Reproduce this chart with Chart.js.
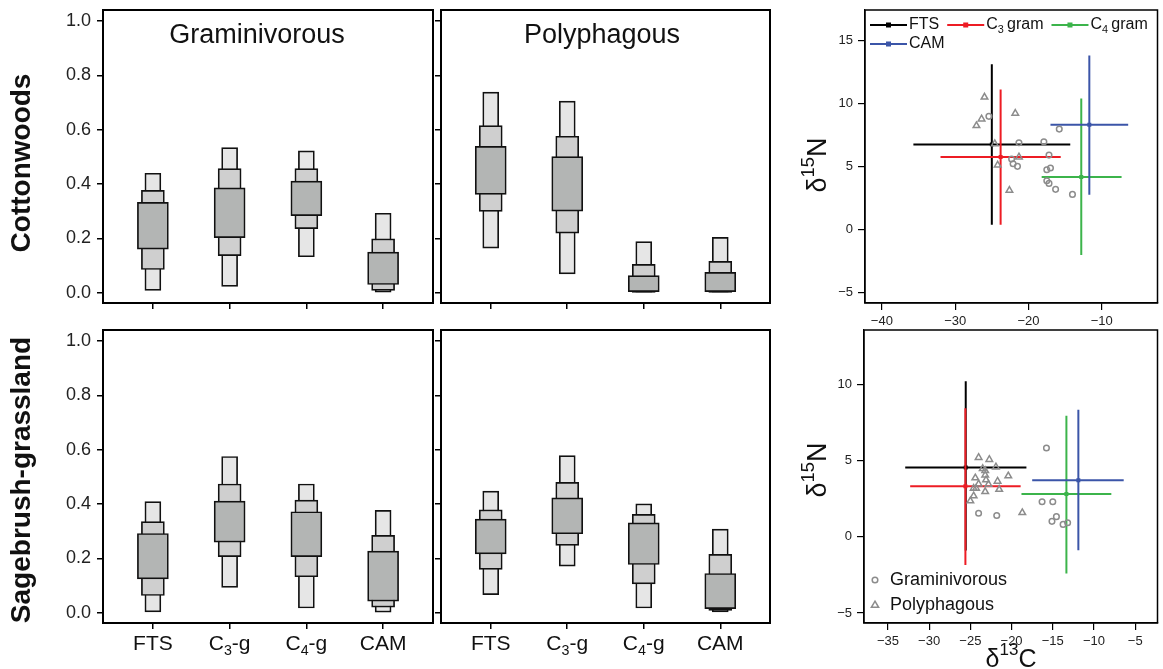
<!DOCTYPE html>
<html>
<head>
<meta charset="utf-8">
<script src="https://cdn.jsdelivr.net/npm/chart.js@4.4.0/dist/chart.umd.min.js"></script>
<style>
  body { margin: 0; background: #fff; width: 1163px; height: 669px; overflow: hidden; position: relative; }
  canvas { position: absolute; left: 0; top: 0; }
</style>
</head>
<body>
<canvas id="boxCottonGram" width="1163" height="669"></canvas>
<canvas id="boxCottonPoly" width="1163" height="669"></canvas>
<canvas id="boxSageGram" width="1163" height="669"></canvas>
<canvas id="boxSagePoly" width="1163" height="669"></canvas>
<canvas id="isoCotton" width="1163" height="669"></canvas>
<canvas id="isoSage" width="1163" height="669"></canvas>
<script>
const FAMILY = '"Liberation Sans", Arial, sans-serif'

/* diet proportions: [low, high] of the outer, middle and inner interval boxes */
const categories = ['FTS', 'C_3-g', 'C_4-g', 'CAM']
const yTicksBox = [0, 0.2, 0.4, 0.6, 0.8, 1.0]

const cottonGramOuter = [[0.009, 0.440], [0.024, 0.534], [0.133, 0.522], [0.000, 0.293]]
const cottonGramMid   = [[0.086, 0.377], [0.137, 0.457], [0.236, 0.457], [0.009, 0.199]]
const cottonGramInner = [[0.161, 0.333], [0.203, 0.386], [0.284, 0.411], [0.031, 0.150]]

const cottonPolyOuter = [[0.165, 0.738], [0.070, 0.705], [0.000, 0.189], [0.000, 0.204]]
const cottonPolyMid   = [[0.300, 0.615], [0.220, 0.576], [0.002, 0.105], [0.002, 0.116]]
const cottonPolyInner = [[0.362, 0.539], [0.301, 0.501], [0.005, 0.064], [0.005, 0.076]]

const sageGramOuter = [[0.004, 0.409], [0.094, 0.575], [0.018, 0.474], [0.000, 0.377]]
const sageGramMid   = [[0.064, 0.336], [0.207, 0.474], [0.133, 0.415], [0.021, 0.285]]
const sageGramInner = [[0.125, 0.292], [0.260, 0.411], [0.207, 0.372], [0.043, 0.227]]

const sagePolyOuter = [[0.067, 0.448], [0.172, 0.578], [0.018, 0.401], [0.004, 0.308]]
const sagePolyMid   = [[0.160, 0.379], [0.248, 0.480], [0.107, 0.362], [0.009, 0.215]]
const sagePolyInner = [[0.217, 0.345], [0.291, 0.423], [0.178, 0.331], [0.016, 0.145]]

/* stable isotopes */
const sourceNames = ['FTS', 'C_3\u2009gram', 'C_4\u2009gram', 'CAM']
const sourceColors = ['#000000', '#ed1c24', '#3cb44b', '#3b55a8']

const cottonSrcC   = [-25.0, -23.8, -12.8, -11.7]
const cottonSrcN   = [6.76, 5.76, 4.17, 8.32]
const cottonSrcCLo = [-35.7, -32.0, -18.2, -17.0]
const cottonSrcCHi = [-14.3, -15.6, -7.3, -6.4]
const cottonSrcNLo = [0.4, 0.4, -2.0, 2.77]
const cottonSrcNHi = [13.1, 11.1, 10.4, 13.8]

const sageSrcC   = [-25.56, -25.6, -13.35, -11.9]
const sageSrcN   = [4.54, 3.31, 2.81, 3.71]
const sageSrcCLo = [-32.9, -32.3, -18.8, -17.5]
const sageSrcCHi = [-18.2, -18.9, -7.9, -6.4]
const sageSrcNLo = [-0.9, -1.86, -2.41, -0.88]
const sageSrcNHi = [10.2, 8.44, 7.94, 8.33]

const cottonGramC = [-25.4, -21.3, -22.3, -22.1, -21.5, -17.9, -17.2, -15.8, -17.0, -17.5, -17.5, -17.2, -16.3, -14.0]
const cottonGramN = [8.98, 6.89, 5.6, 5.23, 5.02, 6.97, 5.91, 7.97, 4.89, 4.75, 3.88, 3.67, 3.2, 2.8]
const cottonPolyC = [-26.0, -26.4, -27.1, -21.8, -24.6, -24.2, -21.3, -22.6]
const cottonPolyN = [10.5, 8.77, 8.24, 9.22, 6.81, 5.12, 5.76, 3.12]

const sageGramC = [-15.77, -16.3, -15.0, -15.1, -14.56, -13.75, -13.2, -24.0, -21.8]
const sageGramN = [5.83, 2.30, 2.30, 1.01, 1.32, 0.81, 0.92, 1.54, 1.40]
const sagePolyC = [-24.0, -22.7, -21.9, -23.5, -23.2, -24.4, -23.2, -20.4, -23.1, -21.7, -24.0, -22.8, -24.6, -24.3, -21.5, -23.2, -24.6, -25.0, -18.7]
const sagePolyN = [5.20, 5.07, 4.58, 4.47, 4.34, 3.86, 4.04, 3.99, 3.73, 3.64, 3.46, 3.44, 3.18, 3.18, 3.11, 2.96, 2.68, 2.35, 1.58]

const cottonTicksC = [-40, -30, -20, -10]
const cottonTicksN = [-5, 0, 5, 10, 15]
const sageTicksC = [-35, -30, -25, -20, -15, -10, -5]
const sageTicksN = [-5, 0, 5, 10]

// text with _n subscripts and ^n superscripts
function drawRich(ctx, str, x, y, size, bold, align) {
    const segs = str.split(/([_^]\d+)/).filter(p => p).map(p => {
        const sub = p[0] === '_', sup = p[0] === '^'
        return { t: (sub || sup) ? p.slice(1) : p, fs: (sub || sup) ? size * 0.68 : size, dy: sub ? size * 0.32 : sup ? -size * 0.38 : 0 }
    })
    const font = fs => (bold ? 'bold ' : '') + fs + 'px ' + FAMILY
    let w = 0
    segs.forEach(s => { ctx.font = font(s.fs); s.w = ctx.measureText(s.t).width; w += s.w })
    let cx = align === 'center' ? x - w / 2 : align === 'right' ? x - w : x
    ctx.textAlign = 'left'
    ctx.textBaseline = 'middle'
    segs.forEach(s => { ctx.font = font(s.fs); ctx.fillText(s.t, cx, y + s.dy); cx += s.w })
    return w
}

function markerPath(ctx, style, x, y, r) {
    ctx.beginPath()
    if (style === 'triangle') {
        ctx.moveTo(x, y - r)
        ctx.lineTo(x + r * 0.95, y + r * 0.6)
        ctx.lineTo(x - r * 0.95, y + r * 0.6)
        ctx.closePath()
    } else {
        ctx.arc(x, y, r, 0, Math.PI * 2)
    }
}

const decor = {
    id: 'decor',
    afterDraw(chart, args, o) {
        const ctx = chart.ctx, a = chart.chartArea
        ctx.save()
        ctx.strokeStyle = '#000'
        ctx.lineWidth = o.frame || 1.5
        ctx.strokeRect(a.left, a.top, a.right - a.left, a.bottom - a.top)
        ctx.fillStyle = '#111'
        if (o.cats) {
            o.cats.forEach((c, i) => drawRich(ctx, c, chart.scales.x.getPixelForValue(i + 1), a.bottom + 21, 21, false, 'center'))
        }
        ;(o.texts || []).forEach(t => {
            ctx.save()
            ctx.translate(t.x, t.y)
            if (t.rot) ctx.rotate(-Math.PI / 2)
            drawRich(ctx, t.s, 0, 0, t.size, t.bold, 'center')
            ctx.restore()
        })
        if (o.lineLegend) {
            o.lineLegend.forEach((row, r) => {
                let x = a.left + 5
                const y = a.top + 15 + r * 19
                row.forEach(i => {
                    ctx.strokeStyle = sourceColors[i]
                    ctx.fillStyle = sourceColors[i]
                    ctx.lineWidth = 2
                    ctx.beginPath(); ctx.moveTo(x, y); ctx.lineTo(x + 37, y); ctx.stroke()
                    ctx.fillRect(x + 16, y - 2.5, 5, 5)
                    ctx.fillStyle = '#111'
                    const w = drawRich(ctx, sourceNames[i], x + 39, y, 16, false, 'left')
                    x += 39 + w + 8
                })
            })
        }
        if (o.pointLegend) {
            o.pointLegend.forEach((it, r) => {
                const y = a.bottom - 43 + r * 25
                ctx.strokeStyle = '#8c8c8c'
                ctx.lineWidth = 1.5
                markerPath(ctx, it.style, a.left + 11, y, it.style === 'triangle' ? 3.8 : 2.8)
                ctx.stroke()
                ctx.fillStyle = '#111'
                drawRich(ctx, it.label, a.left + 26, y, 18, false, 'left')
            })
        }
        ctx.restore()
    }
}

const axisLine = { color: '#000', width: 1.5 }
const tickGrid = { drawOnChartArea: false, drawTicks: true, tickLength: 6, color: '#000', lineWidth: 1.5, offset: false }

function layoutFor(area) {
    return { padding: { left: area.l - 60, top: area.t, right: 1163 - area.r, bottom: 669 - area.b - 40 } }
}

function boxPanel(id, area, outer, mid, inner, extra) {
    const toPts = arr => arr.map((v, i) => ({ x: i + 1, y: v }))
    const common = { grouped: false, borderColor: '#111', borderWidth: 1.7, borderSkipped: false }
    new Chart(document.getElementById(id), {
        type: 'bar',
        data: {
            datasets: [
                { ...common, data: toPts(inner), backgroundColor: '#b3b5b4', barThickness: 31 },
                { ...common, data: toPts(mid), backgroundColor: '#cfcfcf', barThickness: 23 },
                { ...common, data: toPts(outer), backgroundColor: '#e6e6e6', barThickness: 16 }
            ]
        },
        options: {
            responsive: false,
            animation: false,
            events: [],
            layout: layoutFor(area),
            plugins: { legend: { display: false }, tooltip: { enabled: false }, decor: { frame: 2, cats: extra.cats, texts: extra.texts } },
            scales: {
                x: {
                    type: 'linear', min: 0.35, max: 4.65, offset: false,
                    grid: tickGrid, border: axisLine,
                    ticks: { display: false },
                    afterBuildTicks: s => { s.ticks = categories.map((c, i) => ({ value: i + 1 })) },
                    afterFit: s => { s.height = 40; s.paddingLeft = 0; s.paddingRight = 0 }
                },
                y: {
                    type: 'linear', min: -0.037, max: 1.04,
                    grid: tickGrid, border: axisLine,
                    ticks: { display: extra.yLabels, callback: v => v.toFixed(1), font: { size: 18, family: FAMILY }, color: '#222', padding: 6 },
                    afterBuildTicks: s => { s.ticks = yTicksBox.map(v => ({ value: v })) },
                    afterFit: s => { s.width = 60; s.paddingTop = 0; s.paddingBottom = 0 }
                }
            }
        },
        plugins: [decor]
    })
}

function isoPanel(id, area, d, extra) {
    const pts = (cs, ns) => cs.map((x, i) => ({ x, y: ns[i] }))
    const datasets = [
        { data: pts(d.gramC, d.gramN), pointStyle: 'circle', pointRadius: 2.8, pointBorderWidth: 1.5, borderColor: '#8c8c8c', backgroundColor: 'rgba(0,0,0,0)', order: 0 },
        { data: pts(d.polyC, d.polyN), pointStyle: 'triangle', pointRadius: 3.8, pointBorderWidth: 1.5, borderColor: '#8c8c8c', backgroundColor: 'rgba(0,0,0,0)', order: 0 }
    ]
    sourceNames.forEach((name, i) => {
        const line = { showLine: true, pointRadius: 0, borderWidth: 2, borderColor: sourceColors[i], order: 5 - i }
        datasets.push({ ...line, data: [{ x: d.cLo[i], y: d.n[i] }, { x: d.cHi[i], y: d.n[i] }] })
        datasets.push({ ...line, data: [{ x: d.c[i], y: d.nLo[i] }, { x: d.c[i], y: d.nHi[i] }] })
        datasets.push({ data: [{ x: d.c[i], y: d.n[i] }], pointStyle: 'rect', pointRadius: 2.8, borderWidth: 0, backgroundColor: sourceColors[i], borderColor: sourceColors[i], order: 5 - i })
    })
    const fmt = v => String(v).replace('-', '\u2212')
    new Chart(document.getElementById(id), {
        type: 'scatter',
        data: { datasets },
        options: {
            responsive: false,
            animation: false,
            events: [],
            layout: layoutFor(area),
            plugins: { legend: { display: false }, tooltip: { enabled: false }, decor: { frame: 1.5, texts: extra.texts, lineLegend: extra.lineLegend, pointLegend: extra.pointLegend } },
            scales: {
                x: {
                    type: 'linear', min: d.xMin, max: d.xMax,
                    grid: { ...tickGrid, tickLength: 7, lineWidth: 1.2 }, border: { color: '#000', width: 1.2 },
                    ticks: { callback: fmt, font: { size: 13, family: FAMILY }, color: '#222', padding: 4, maxRotation: 0, autoSkip: false },
                    afterBuildTicks: s => { s.ticks = d.ticksC.map(v => ({ value: v })) },
                    afterFit: s => { s.height = 40; s.paddingLeft = 0; s.paddingRight = 0 }
                },
                y: {
                    type: 'linear', min: d.yMin, max: d.yMax,
                    grid: { ...tickGrid, tickLength: 7, lineWidth: 1.2 }, border: { color: '#000', width: 1.2 },
                    ticks: { callback: fmt, font: { size: 13, family: FAMILY }, color: '#222', padding: 5, autoSkip: false },
                    afterBuildTicks: s => { s.ticks = d.ticksN.map(v => ({ value: v })) },
                    afterFit: s => { s.width = 60; s.paddingTop = 0; s.paddingBottom = 0 }
                }
            }
        },
        plugins: [decor]
    })
}

boxPanel('boxCottonGram', { l: 103, t: 10, r: 433, b: 303 }, cottonGramOuter, cottonGramMid, cottonGramInner, {
    yLabels: true,
    texts: [
        { s: 'Graminivorous', x: 257, y: 36, size: 27 },
        { s: 'Cottonwoods', x: 22, y: 163, size: 28, bold: true, rot: true }
    ]
})
boxPanel('boxCottonPoly', { l: 441, t: 10, r: 770, b: 303 }, cottonPolyOuter, cottonPolyMid, cottonPolyInner, {
    yLabels: false,
    texts: [{ s: 'Polyphagous', x: 602, y: 36, size: 27 }]
})
boxPanel('boxSageGram', { l: 103, t: 330, r: 433, b: 623 }, sageGramOuter, sageGramMid, sageGramInner, {
    yLabels: true, cats: categories,
    texts: [{ s: 'Sagebrush-grassland', x: 22, y: 480, size: 28, bold: true, rot: true }]
})
boxPanel('boxSagePoly', { l: 441, t: 330, r: 770, b: 623 }, sagePolyOuter, sagePolyMid, sagePolyInner, {
    yLabels: false, cats: categories
})

isoPanel('isoCotton', { l: 865, t: 10, r: 1158, b: 303 }, {
    gramC: cottonGramC, gramN: cottonGramN, polyC: cottonPolyC, polyN: cottonPolyN,
    c: cottonSrcC, n: cottonSrcN, cLo: cottonSrcCLo, cHi: cottonSrcCHi, nLo: cottonSrcNLo, nHi: cottonSrcNHi,
    xMin: -42.3, xMax: -2.4, yMin: -5.8, yMax: 17.4, ticksC: cottonTicksC, ticksN: cottonTicksN
}, {
    texts: [{ s: 'δ^15N', x: 819, y: 165, size: 27, rot: true }],
    lineLegend: [[0, 1, 2], [3]]
})
isoPanel('isoSage', { l: 864, t: 330, r: 1158, b: 623 }, {
    gramC: sageGramC, gramN: sageGramN, polyC: sagePolyC, polyN: sagePolyN,
    c: sageSrcC, n: sageSrcN, cLo: sageSrcCLo, cHi: sageSrcCHi, nLo: sageSrcNLo, nHi: sageSrcNHi,
    xMin: -37.9, xMax: -2.3, yMin: -5.66, yMax: 13.57, ticksC: sageTicksC, ticksN: sageTicksN
}, {
    texts: [
        { s: 'δ^15N', x: 819, y: 470, size: 27, rot: true },
        { s: 'δ^13C', x: 1011, y: 660, size: 25 }
    ],
    pointLegend: [{ label: 'Graminivorous', style: 'circle' }, { label: 'Polyphagous', style: 'triangle' }]
})
</script>
</body>
</html>
